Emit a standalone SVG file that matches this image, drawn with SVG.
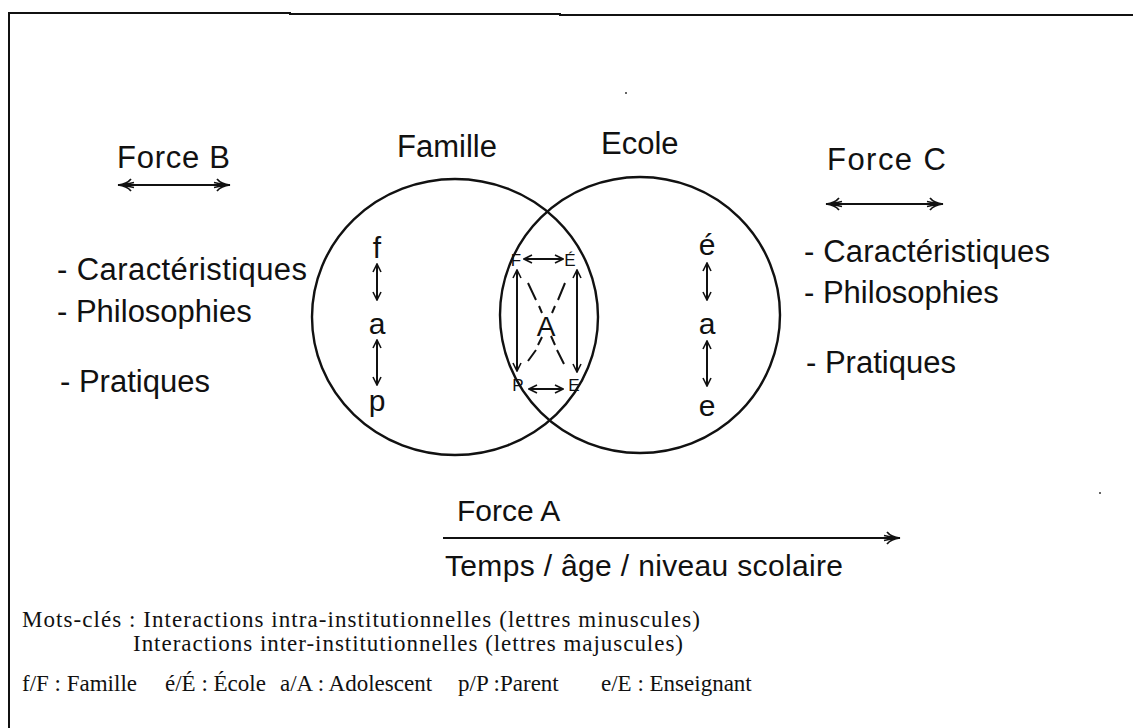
<svg xmlns="http://www.w3.org/2000/svg" width="1133" height="728" viewBox="0 0 1133 728">
<defs>
<style>
.s{font-family:"Liberation Sans",Arial,sans-serif;fill:#111}
.t{font-family:"Liberation Serif","Times New Roman",serif;fill:#111;font-size:23px}
.ln{stroke:#111;stroke-width:2;fill:none}
.c{stroke:#111;stroke-width:2.4;fill:none}
</style>
<marker id="ah" viewBox="0 0 10 10" refX="9" refY="5" markerWidth="10" markerHeight="10" markerUnits="userSpaceOnUse" orient="auto-start-reverse">
<path d="M1,1 L9,5 L1,9" fill="none" stroke="#111" stroke-width="1.6"/>
</marker>
<marker id="ahb" viewBox="0 0 18 14" refX="17" refY="7" markerWidth="18" markerHeight="14" markerUnits="userSpaceOnUse" orient="auto-start-reverse">
<path d="M4,1 Q8,6 17,7 Q8,8 4,13 M1,4.5 L13,7 L1,9.5" fill="none" stroke="#111" stroke-width="1.7"/>
</marker>
</defs>
<rect width="1133" height="728" fill="#fff"/>
<g id="frame">
<path d="M9,728 V13 H290 V14 H560 V15 H1133" class="ln" stroke-width="1.6"/>
<circle cx="626" cy="93" r="1" fill="#333"/>
<circle cx="1100" cy="493" r="1" fill="#333"/>
</g>
<g id="famille">
<ellipse cx="455" cy="317" rx="143" ry="138" class="c"/>
<text class="s" x="397" y="157" font-size="31">Famille</text>
</g>
<g id="ecole">
<ellipse cx="640" cy="315" rx="140" ry="138" class="c"/>
<text class="s" x="601" y="154" font-size="31">Ecole</text>
</g>
<g id="forceB">
<text class="s" x="117" y="168" font-size="31" textLength="113">Force B</text>
<text class="s" x="57" y="280" font-size="31" textLength="250">- Caractéristiques</text>
<text class="s" x="57" y="322" font-size="31">- Philosophies</text>
<text class="s" x="60" y="392" font-size="31">- Pratiques</text>
</g>
<g id="forceC">
<text class="s" x="827" y="170" font-size="31" textLength="119">Force C</text>
<text class="s" x="804" y="262" font-size="31" textLength="246">- Caractéristiques</text>
<text class="s" x="804" y="303" font-size="31">- Philosophies</text>
<text class="s" x="806" y="373" font-size="31">- Pratiques</text>
</g>
<g id="intra-famille" class="s" font-size="30" text-anchor="middle">
<text x="377" y="258">f</text>
<text x="377" y="334">a</text>
<text x="377" y="411">p</text>
</g>
<g id="intra-ecole" class="s" font-size="30" text-anchor="middle">
<text x="707" y="255">é</text>
<text x="707" y="334">a</text>
<text x="707" y="416">e</text>
</g>
<g id="inter" class="s" text-anchor="middle">
<text x="516" y="266" font-size="17">F</text>
<text x="570" y="266" font-size="17">É</text>
<text x="518" y="391" font-size="17">P</text>
<text x="574" y="391" font-size="17">E</text>
<text x="546" y="336" font-size="28">A</text>
</g>
<g id="forceA">
<text class="s" x="457" y="521" font-size="30">Force A</text>
<text class="s" x="445" y="576" font-size="30" textLength="398">Temps / âge / niveau scolaire</text>
</g>
<g id="connectors">
<line x1="118" y1="185" x2="230" y2="185" class="ln" marker-start="url(#ahb)" marker-end="url(#ahb)"/>
<line x1="826" y1="204" x2="943" y2="204" class="ln" marker-start="url(#ahb)" marker-end="url(#ahb)"/>
<line x1="443" y1="538" x2="900" y2="538" class="ln" marker-end="url(#ahb)"/>
<line x1="377" y1="264" x2="377" y2="300" class="ln" marker-start="url(#ah)" marker-end="url(#ah)"/>
<line x1="377" y1="340" x2="377" y2="385" class="ln" marker-start="url(#ah)" marker-end="url(#ah)"/>
<line x1="707" y1="263" x2="707" y2="300" class="ln" marker-start="url(#ah)" marker-end="url(#ah)"/>
<line x1="707" y1="341" x2="707" y2="386" class="ln" marker-start="url(#ah)" marker-end="url(#ah)"/>
<line x1="524" y1="259" x2="563" y2="259" class="ln" marker-start="url(#ah)" marker-end="url(#ah)"/>
<line x1="529" y1="389" x2="563" y2="389" class="ln" marker-start="url(#ah)" marker-end="url(#ah)"/>
<line x1="517" y1="270" x2="517" y2="371" class="ln" marker-start="url(#ah)" marker-end="url(#ah)"/>
<line x1="577" y1="270" x2="577" y2="372" class="ln" marker-start="url(#ah)" marker-end="url(#ah)"/>
<path d="M528,283 L536,300 M539,306 L542,313 M551,336 L555,345 M557,350 L564,364" class="ln"/>
<path d="M565,283 L558,300 M555,306 L552,313 M542,337 L538,345 M536,350 L528,361" class="ln"/>
</g>
<g id="legend">
<text class="t" x="22" y="627" textLength="678">Mots-clés : Interactions intra-institutionnelles (lettres minuscules)</text>
<text class="t" x="133" y="651" textLength="550">Interactions inter-institutionnelles (lettres majuscules)</text>
<text class="t" x="22" y="691">f/F : Famille</text>
<text class="t" x="165" y="691">é/É : École</text>
<text class="t" x="280" y="691">a/A : Adolescent</text>
<text class="t" x="458" y="691">p/P :Parent</text>
<text class="t" x="601" y="691">e/E : Enseignant</text>
</g>
</svg>
